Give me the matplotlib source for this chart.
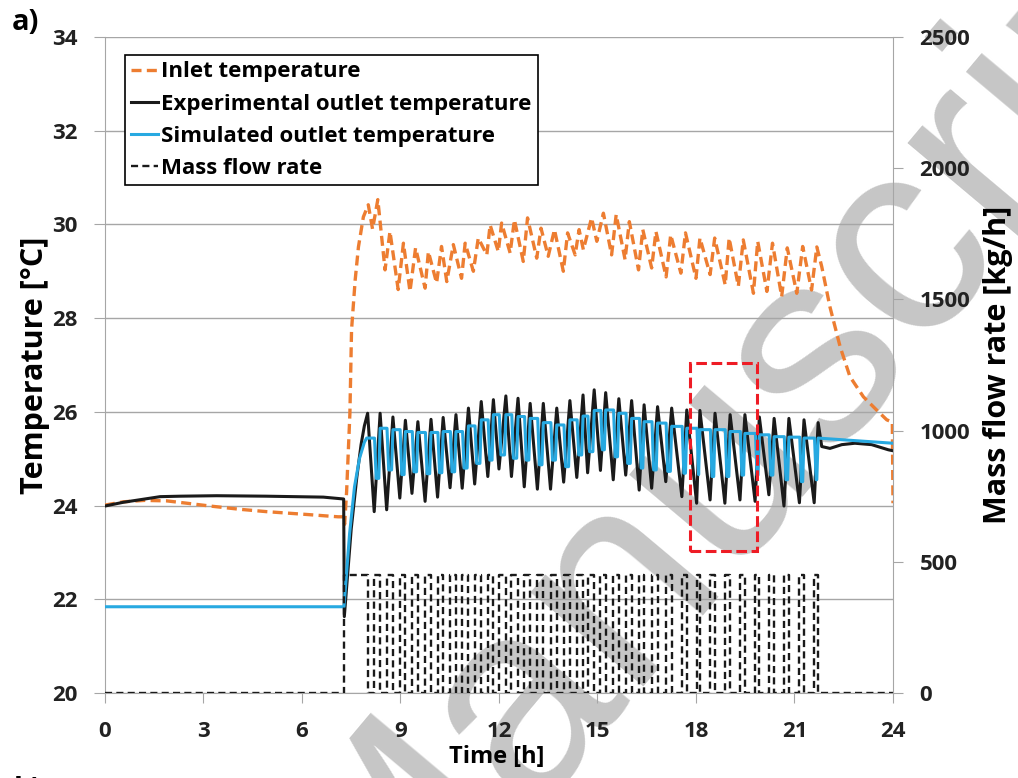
import matplotlib
matplotlib.use("Agg")
import matplotlib.pyplot as plt
from matplotlib.lines import Line2D
from matplotlib.patches import Rectangle

plt.rcParams['font.family'] = ['Open Sans', 'DejaVu Sans']
plt.rcParams['font.weight'] = 'bold'

# ---- data --------------------------------------------------------------
# inlet temperature (orange dashed), [h] / [degC]
inlet_t = [0, 0.56, 1.2, 1.88, 2.49, 3.2, 4.11, 4.92, 6.14, 7.1, 7.25, 7.30, 7.36,
           7.46, 7.51, 7.62, 7.72, 7.87, 8.02, 8.15, 8.31,
           8.53, 8.68, 8.93, 9.09, 9.29, 9.46, 9.75, 9.85, 10.10, 10.25, 10.41, 10.61,
           10.86, 10.97, 11.22, 11.37, 11.63, 11.73, 11.98, 12.08, 12.34, 12.47, 12.74,
           12.87, 13.15, 13.28, 13.50, 13.69, 13.96, 14.09, 14.32, 14.44, 14.57, 14.82,
           14.98, 15.18, 15.43, 15.57, 15.84, 15.97, 16.25, 16.38, 16.65, 16.78, 17.09,
           17.23, 17.54, 17.68, 18.00, 18.12, 18.43, 18.57, 18.89, 19.01, 19.29, 19.44,
           19.75, 19.88, 20.16, 20.33, 20.61, 20.78, 21.07, 21.25, 21.52, 21.68,
           21.83, 22.08, 22.39, 22.69, 23.1, 23.5, 23.81, 23.98, 24.0]
inlet_T = [24.01, 24.08, 24.11, 24.10, 24.05, 23.99, 23.92, 23.87, 23.81, 23.76, 23.76, 23.6, 24.3,
           25.97, 27.75, 28.81, 29.52, 30.16, 30.42, 29.9, 30.53,
           29.03, 29.85, 28.61, 29.60, 28.57, 29.50, 28.64, 29.42, 28.75, 29.53, 28.78, 29.57,
           28.85, 29.60, 29.0, 29.71, 29.35, 29.99, 29.42, 30.03, 29.39, 30.10, 29.21,
           30.14, 29.28, 29.92, 29.32, 29.89, 29.0, 29.82, 29.35, 29.89, 29.46, 30.14,
           29.64, 30.24, 29.35, 30.21, 29.25, 30.06, 29.03, 29.89, 29.07, 29.85, 28.88,
           29.78, 28.96, 29.82, 28.85, 29.71, 28.93, 29.71, 28.71, 29.71, 28.68, 29.67,
           28.53, 29.64, 28.57, 29.60, 28.46, 29.50, 28.53, 29.53, 28.60, 29.52,
           29.10, 28.24, 27.39, 26.75, 26.32, 26.04, 25.83, 25.78, 24.05]

# experimental outlet: before the first pulse, and after the last one
exp_pre_t = [0, 0.56, 1.68, 2.3, 3.4, 4.9, 6.65, 7.27, 7.29, 7.50, 7.67, 7.80, 7.90]
exp_pre_T = [23.99, 24.07, 24.19, 24.20, 24.21, 24.20, 24.18, 24.14, 21.63, 23.5, 24.6, 25.3, 25.7]
exp_tail_t = [21.83, 22.08, 22.44, 22.84, 23.35, 23.86, 24.0]
exp_tail_T = [25.26, 25.22, 25.30, 25.33, 25.30, 25.19, 25.17]

# cycles: outlet peak at the end of each pulse, dip at the start of the next
peak_t = [8.00, 8.38, 8.77, 9.15, 9.53, 9.93, 10.30, 10.69, 11.07, 11.46, 11.83, 12.21,
          12.58, 12.95, 13.35, 13.76, 14.16, 14.56, 14.90, 15.25, 15.65, 16.04, 16.42,
          16.83, 17.26, 17.72, 18.12, 18.58, 19.04, 19.49, 19.93, 20.38, 20.83, 21.29, 21.72]
peak_T = [25.97, 25.97, 25.89, 25.82, 25.79, 25.84, 25.88, 25.94, 26.08, 26.22, 26.26, 26.34,
          26.29, 26.18, 26.18, 26.08, 26.24, 26.36, 26.47, 26.41, 26.28, 26.24, 26.15,
          26.11, 26.08, 26.04, 26.03, 25.97, 25.94, 25.94, 25.89, 25.86, 25.86, 25.83, 25.77]
trough_t = [8.20, 8.58, 8.98, 9.35, 9.75, 10.13, 10.51, 10.88, 11.26, 11.66, 12.00, 12.38,
            12.77, 13.17, 13.57, 13.97, 14.37, 14.70, 15.09, 15.48, 15.86, 16.27, 16.65,
            17.08, 17.57, 18.02, 18.43, 18.88, 19.34, 19.80, 20.22, 20.68, 21.15, 21.60]
trough_T = [23.87, 23.91, 24.16, 24.26, 24.09, 24.18, 24.38, 24.37, 24.46, 24.62, 24.78, 24.62,
            24.40, 24.35, 24.35, 24.50, 24.60, 24.70, 24.75, 24.55, 24.65, 24.33, 24.37,
            24.51, 24.19, 24.05, 24.12, 24.05, 24.12, 24.09, 24.23, 23.99, 24.06, 24.06]

# simulated outlet
sim_pre_t = [0, 7.28, 7.45, 7.60, 7.75, 7.90]
sim_pre_T = [21.84, 21.84, 23.4, 24.4, 25.0, 25.35]
sim_plateau = [25.44, 25.65, 25.62, 25.58, 25.56, 25.56, 25.58, 25.58, 25.70, 25.83, 25.94,
               25.94, 25.90, 25.86, 25.77, 25.72, 25.83, 25.91, 26.03, 26.04, 25.97, 25.86,
               25.79, 25.76, 25.69, 25.65, 25.62, 25.62, 25.58, 25.54, 25.51, 25.47, 25.46,
               25.44, 25.44]
sim_low = [24.58, 24.76, 24.66, 24.72, 24.68, 24.70, 24.72, 24.80, 24.90, 24.97, 25.08, 25.01,
           24.97, 24.87, 24.97, 24.83, 25.08, 25.15, 25.19, 25.04, 24.90, 24.80, 24.76,
           24.73, 24.69, 24.66, 24.62, 24.62, 24.65, 24.65, 24.65, 24.55, 24.51, 24.55]
sim_tail_T = 25.33

# mass flow: pump on from start of each dip to the following peak
flow_level = 450
flow_start = [7.28] + trough_t
flow_stop = peak_t

# ---- build the poly-lines --------------------------------------------
exp_t = exp_pre_t + [peak_t[0]]
exp_T = exp_pre_T + [peak_T[0]]
for i in range(len(trough_t)):
    exp_t += [trough_t[i], peak_t[i + 1]]
    exp_T += [trough_T[i], peak_T[i + 1]]
exp_t += exp_tail_t
exp_T += exp_tail_T

sim_t = sim_pre_t + [7.97]
sim_T = sim_pre_T + [sim_plateau[0]]
for i in range(len(trough_t)):
    sim_t += [trough_t[i] + 0.01, trough_t[i] + 0.06, peak_t[i + 1] - 0.04, peak_t[i + 1]]
    sim_T += [sim_plateau[i], sim_low[i], sim_low[i], sim_plateau[i + 1]]
sim_t += [24.0]
sim_T += [sim_tail_T]

flow_t, flow_v = [0], [0]
for a, b in zip(flow_start, flow_stop):
    flow_t += [a, a, b, b]
    flow_v += [0, flow_level, flow_level, 0]
flow_t.append(24)
flow_v.append(0)

# ---- figure ------------------------------------------------------------
ORANGE, BLUE, BLACK, GREY = "#ed7d31", "#27a9e1", "#1a1a1a", "#a6a6a6"
fig = plt.figure(figsize=(10.18, 7.78), dpi=100)
fig.patch.set_facecolor("white")
ax = fig.add_axes([0.1031, 0.1093, 0.7741, 0.8431])
ax.patch.set_visible(False)
ax2 = ax.twinx()

# watermark of the source
fig.text(0.744, 0.470, "Manuscript", rotation=50, fontsize=200, color="#c6c6c6",
         family="Liberation Sans", weight="normal", ha="center", va="center", zorder=-5)

ax.plot(inlet_t, inlet_T, color=ORANGE, lw=2.4, ls=(0, (3, 1.6)), zorder=3)
ax.plot(exp_t, exp_T, color=BLACK, lw=2.2, zorder=4)
ax.plot(sim_t, sim_T, color=BLUE, lw=2.2, zorder=5)
ax2.plot(flow_t, flow_v, color=BLACK, lw=1.7, ls=(0, (3, 1.8)))

ax.add_patch(Rectangle((17.83, 23.03), 2.04, 4.02, fill=False, edgecolor="#ee1c25",
                       lw=2.2, ls=(0, (3.5, 1.5)), zorder=6))

ax.set_xlim(0, 24)
ax.set_ylim(20, 34)
ax2.set_ylim(0, 2500)
ax.set_xticks(range(0, 25, 3))
ax.set_yticks(range(20, 35, 2))
ax2.set_yticks(range(0, 2501, 500))
ax.grid(axis="y", color=GREY, lw=1)
ax.set_axisbelow(True)

for a in (ax, ax2):
    a.spines["top"].set_visible(False)
    for s in ("left", "right", "bottom"):
        a.spines[s].set_color(GREY)
ax2.spines["left"].set_visible(False)
ax2.spines["bottom"].set_visible(False)
ax.spines["right"].set_visible(False)

ax.tick_params(axis="x", length=7, color=GREY, labelcolor="#222222", labelsize=16, pad=13)
ax.tick_params(axis="y", length=8, color=GREY, labelcolor="#222222", labelsize=16, pad=12)
ax2.tick_params(axis="y", length=7, color=GREY, labelcolor="#222222", labelsize=16, pad=12)

ax.set_xlabel("Time [h]", fontsize=17, weight="bold")
ax.set_ylabel("Temperature [°C]", fontsize=22, weight="bold")
ax2.set_ylabel("Mass flow rate [kg/h]", fontsize=22, weight="bold")
ax.xaxis.label.set_va("center")
ax.xaxis.set_label_coords(0.497, -0.098)
ax.yaxis.label.set_va("center")
ax.yaxis.set_label_coords(-0.089, 0.5)
ax2.yaxis.label.set_va("center")
ax2.yaxis.set_label_coords(1.133, 0.5)

handles = [Line2D([], [], color=ORANGE, lw=2.4, ls=(0, (3, 1.6))),
           Line2D([], [], color=BLACK, lw=2.2),
           Line2D([], [], color=BLUE, lw=2.2),
           Line2D([], [], color=BLACK, lw=1.7, ls=(0, (3, 1.8)))]
labels = ["Inlet temperature", "Experimental outlet temperature",
          "Simulated outlet temperature", "Mass flow rate"]
leg = ax2.legend(handles, labels, loc="upper left", bbox_to_anchor=(0.025, 0.973),
                 borderaxespad=0, fancybox=False, framealpha=1, edgecolor="black",
                 handlelength=1.2, handletextpad=0.15, labelspacing=0.5, borderpad=0.3,
                 prop={"size": 16, "weight": "bold"})
leg.get_frame().set_linewidth(1.2)

fig.text(25 / 1018, 1 - 22 / 778, "a)", fontsize=21, weight="bold", ha="center", va="center")
fig.text(28 / 1018, 1 - 790 / 778, "b)", fontsize=21, weight="bold", ha="center", va="center")

fig.savefig("out.png", dpi=100)
